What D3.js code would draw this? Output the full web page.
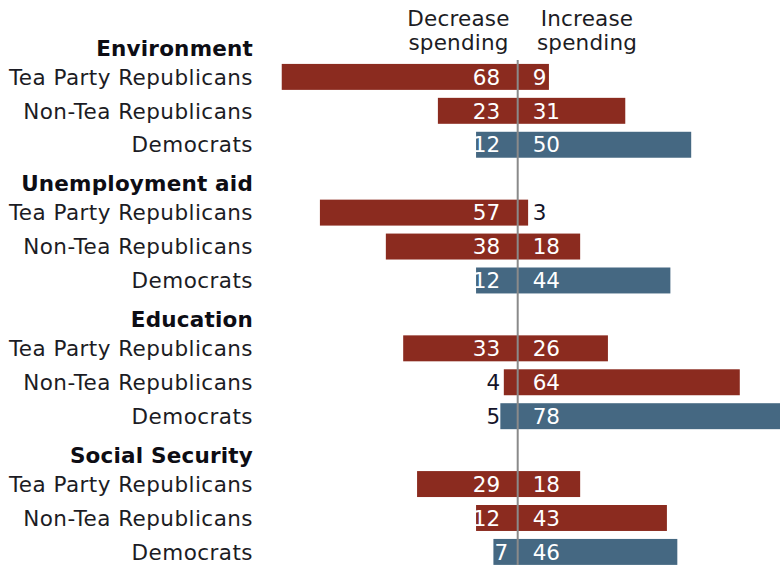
<!DOCTYPE html>
<html>
<head>
<meta charset="utf-8">
<script src="https://cdn.jsdelivr.net/npm/d3@7"></script>
<style>
  html, body { margin: 0; padding: 0; background: #ffffff; }
  svg { display: block; }
  text { font-family: "DejaVu Sans", Verdana, sans-serif; }
</style>
</head>
<body>
<svg id="chart" width="780" height="565"></svg>
<script>
// Spending priorities by partisan group: share who want each area cut or raised
const topics = ["Environment", "Unemployment aid", "Education", "Social Security"];
const groups = ["Tea Party Republicans", "Non-Tea Republicans", "Democrats"];
const decreaseSpending = [
  [68, 23, 12],
  [57, 38, 12],
  [33, 4, 5],
  [29, 12, 7]
];
const increaseSpending = [
  [9, 31, 50],
  [3, 18, 44],
  [26, 64, 78],
  [18, 43, 46]
];
const columnTitles = [["Decrease", "spending"], ["Increase", "spending"]];

const W = 780, H = 565;
const svg = d3.select("#chart");

const red = "#8b2b1f", blue = "#456882";
const fontSize = 21.5;

// one row per topic header plus one per group bar
const rows = [];
topics.forEach((t, ti) => {
  rows.push({ type: "header", topic: t, id: "h" + ti });
  groups.forEach((g, gi) => {
    rows.push({
      type: "bar", topic: t, group: g, gi,
      id: "r" + ti + "_" + gi,
      dec: decreaseSpending[ti][gi],
      inc: increaseSpending[ti][gi]
    });
  });
});

const y = d3.scaleBand()
  .domain(rows.map(r => r.id))
  .range([26, 26 + rows.length * 33.93])
  .paddingInner(0.235)
  .paddingOuter(0.1175);

const x = d3.scaleLinear().domain([-70, 70]).range([517.7 - 70 * 3.47, 517.7 + 70 * 3.47]);
const x0 = x(0);

const barRows = rows.filter(r => r.type === "bar");
const headerRows = rows.filter(r => r.type === "header");

// column titles
columnTitles.forEach((lines, i) => {
  const cx = i === 0 ? 458.5 : 587;
  const t = svg.append("text")
    .attr("text-anchor", "middle")
    .attr("font-size", fontSize)
    .attr("letter-spacing", 0.2)
    .attr("fill", "#1c1c24");
  lines.forEach((ln, li) => {
    t.append("tspan").attr("x", cx).attr("y", 26 + li * 24).text(ln);
  });
});

// bars
const fillFor = r => r.gi === 2 ? blue : red;
svg.append("g").selectAll("rect.dec")
  .data(barRows).join("rect")
  .attr("class", "dec")
  .attr("x", d => x(-d.dec))
  .attr("y", d => y(d.id))
  .attr("width", d => x0 - x(-d.dec))
  .attr("height", y.bandwidth())
  .attr("fill", fillFor);

svg.append("g").selectAll("rect.inc")
  .data(barRows).join("rect")
  .attr("class", "inc")
  .attr("x", x0)
  .attr("y", d => y(d.id))
  .attr("width", d => x(d.inc) - x0)
  .attr("height", y.bandwidth())
  .attr("fill", fillFor);

// centre divider
svg.append("line")
  .attr("x1", x0).attr("x2", x0)
  .attr("y1", 60).attr("y2", H)
  .attr("stroke", "#8a8a8a")
  .attr("stroke-width", 2);

const mid = d => y(d.id) + y.bandwidth() / 2;
const dark = "#14142a";

// value labels: small values sit outside their bar in dark text,
// single digits that fit are tucked in nearer the divider
svg.append("g").selectAll("text")
  .data(barRows).join("text")
  .attr("x", d => (d.dec >= 6 && d.dec < 10) ? x0 - 9.5 : x0 - 17.5)
  .attr("y", d => mid(d) + 7.7)
  .attr("text-anchor", "end")
  .attr("font-size", fontSize)
  .attr("fill", d => d.dec < 6 ? dark : "#ffffff")
  .text(d => d.dec);

svg.append("g").selectAll("text")
  .data(barRows).join("text")
  .attr("x", x0 + 15)
  .attr("y", d => mid(d) + 7.7)
  .attr("text-anchor", "start")
  .attr("font-size", fontSize)
  .attr("fill", d => d.inc < 6 ? dark : "#ffffff")
  .text(d => d.inc);

// group labels
svg.append("g").selectAll("text")
  .data(barRows).join("text")
  .attr("x", 253)
  .attr("y", d => mid(d) + 7.7)
  .attr("text-anchor", "end")
  .attr("font-size", fontSize)
  .attr("letter-spacing", 0.45)
  .attr("fill", "#1c1c24")
  .text(d => d.group);

// topic headers
svg.append("g").selectAll("text")
  .data(headerRows).join("text")
  .attr("x", 253)
  .attr("y", d => mid(d) + 7.7 + 5)
  .attr("text-anchor", "end")
  .attr("font-size", fontSize)
  .attr("font-weight", "bold")
  .attr("letter-spacing", 0.2)
  .attr("fill", "#0d0d14")
  .text(d => d.topic);
</script>
</body>
</html>
